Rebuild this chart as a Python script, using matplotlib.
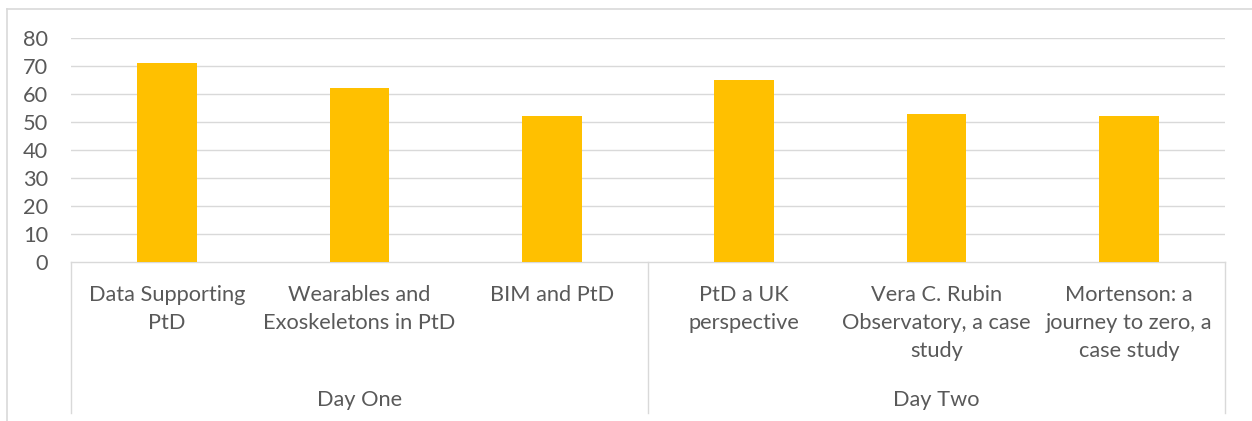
import matplotlib
matplotlib.use("Agg")
import numpy as np
from matplotlib import pyplot as plt
from matplotlib.lines import Line2D
from matplotlib.transforms import blended_transform_factory

# ---------------------------------------------
# Data
# ---------------------------------------------
sessions = [
    "Data Supporting\nPtD",
    "Wearables and\nExoskeletons in PtD",
    "BIM and PtD",
    "PtD a UK\nperspective",
    "Vera C. Rubin\nObservatory, a case\nstudy",
    "Mortenson: a\njourney to zero, a\ncase study",
]
scores = [71, 62, 52, 65, 53, 52]
days = ["Day One", "Day Two"]
day_sizes = [3, 3]
y_ticks = [0, 10, 20, 30, 40, 50, 60, 70, 80]

BAR = "#FFC000"
GRID = "#D9D9D9"
TEXT = "#595959"
FS = 15.7

plt.rcParams["font.family"] = ["Lato", "DejaVu Sans"]

W, H = 1252, 421
fig = plt.figure(figsize=(W / 100, H / 100), dpi=100)

# plot area in pixels
left, right, top, bottom = 71, 1225, 38, 262
ax = fig.add_axes([left / W, 1 - bottom / H, (right - left) / W, (bottom - top) / H])

x = np.arange(len(sessions))
ax.bar(x, scores, width=0.31, color=BAR, zorder=3)

ax.set_xlim(-0.5, len(sessions) - 0.5)
ax.set_ylim(0, 80)
ax.set_yticks(y_ticks)
ax.set_yticklabels([str(v) for v in y_ticks], fontsize=FS, color=TEXT)
ax.tick_params(axis="y", length=0, pad=16.5)
ax.tick_params(axis="x", length=0)
ax.set_xticks([])

for v in y_ticks[1:]:
    ax.axhline(v, color=GRID, lw=1.0, zorder=1)

for s in ["top", "right", "left"]:
    ax.spines[s].set_visible(False)
ax.spines["bottom"].set_color(GRID)
ax.spines["bottom"].set_linewidth(1.0)

# ---------------------------------------------
# Multi-level category axis
# ---------------------------------------------
trans = blended_transform_factory(ax.transData, ax.transAxes)
px = 1.0 / (bottom - top)
label_top = -(285 - bottom) * px
day_y = -(400 - bottom) * px
line_bottom = -(413 - bottom) * px

for xi, name in zip(x, sessions):
    ax.text(xi, label_top, name, transform=trans, ha="center", va="top",
            fontsize=FS, color=TEXT, linespacing=1.5)

edges = np.concatenate([[0], np.cumsum(day_sizes)]) - 0.5
for e in edges:
    ax.add_line(Line2D([e, e], [0, line_bottom], transform=trans,
                       color=GRID, lw=1.0, clip_on=False))

for d, a, b in zip(days, edges[:-1], edges[1:]):
    ax.text((a + b) / 2, day_y, d, transform=trans, ha="center", va="center",
            fontsize=FS, color=TEXT)

# ---------------------------------------------
# Chart frame (clipped at right and bottom)
# ---------------------------------------------
fx, fy = 7 / W, 1 - 9 / H
fig.add_artist(Line2D([fx, 1], [fy, fy], transform=fig.transFigure, color=GRID, lw=1.2))
fig.add_artist(Line2D([fx, fx], [fy, 0], transform=fig.transFigure, color=GRID, lw=1.2))

fig.savefig("out.png", dpi=100)
